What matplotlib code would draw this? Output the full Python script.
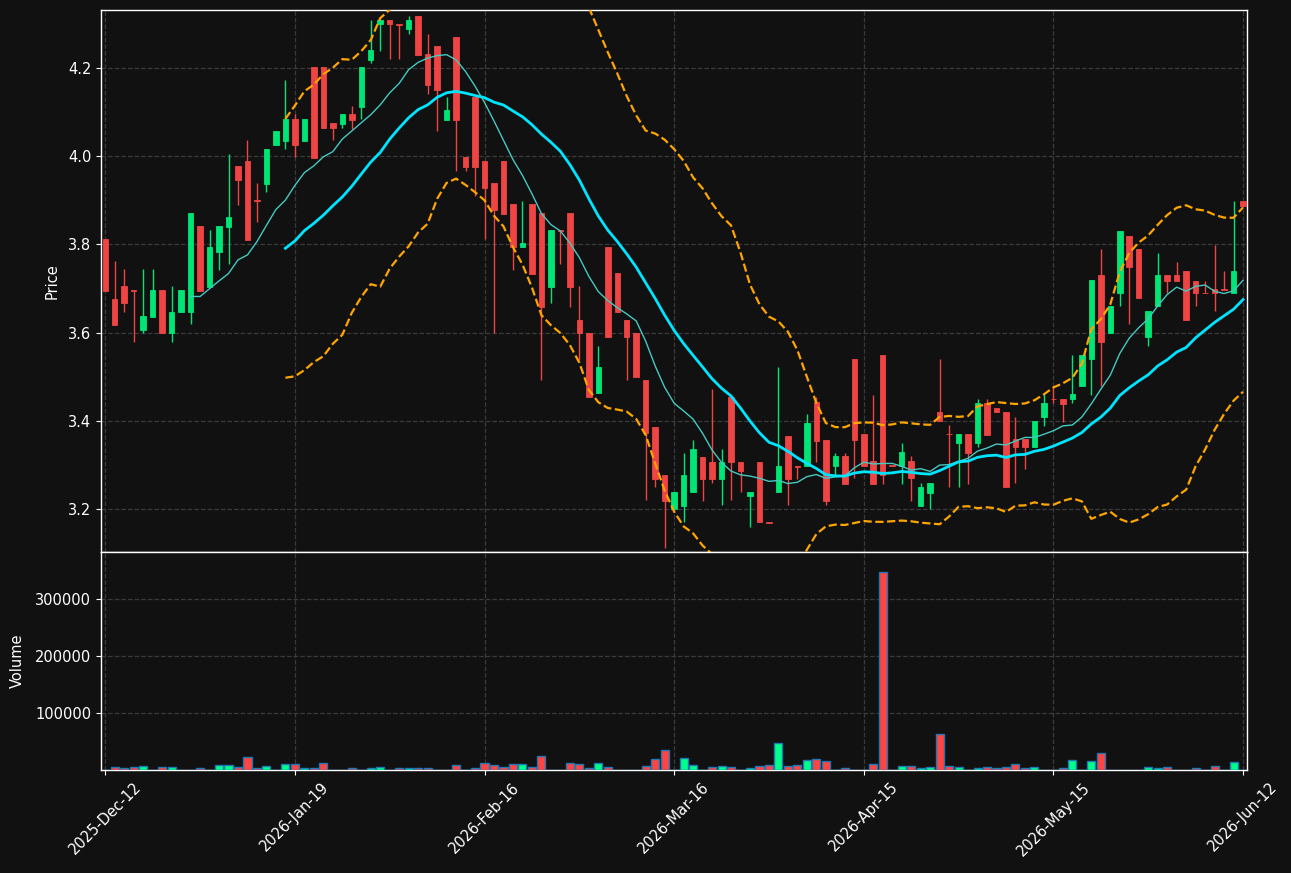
import numpy as np
import pandas as pd
import matplotlib
matplotlib.use("Agg")
import matplotlib.pyplot as plt

# ── DATOS OHLC + VOLUMEN (una vela por sesión) ──
opens = [3.812, 3.677, 3.706, 3.696, 3.607, 3.636, 3.697, 3.598, 3.646, 3.646,
         3.842, 3.704, 3.782, 3.839, 3.978, 3.989, 3.900, 3.937, 4.026, 4.034,
         4.084, 4.034, 4.2016, 4.2016, 4.075, 4.073, 4.095, 4.111, 4.2186, 4.299,
         4.308, 4.300, 4.289, 4.317, 4.231, 4.249, 4.083, 4.270, 3.998, 4.134,
         3.988, 3.939, 3.989, 3.891, 3.793, 3.891, 3.871, 3.704, 3.832, 3.871,
         3.628, 3.599, 3.462, 3.794, 3.735, 3.628, 3.599, 3.492, 3.385, 3.278,
         3.199, 3.207, 3.239, 3.318, 3.307, 3.267, 3.454, 3.307, 3.229, 3.307,
         3.170, 3.239, 3.365, 3.297, 3.297, 3.442, 3.356, 3.298, 3.320, 3.541,
         3.371, 3.308, 3.550, 3.299, 3.298, 3.308, 3.207, 3.237, 3.419, 3.370,
         3.349, 3.370, 3.349, 3.441, 3.429, 3.419, 3.359, 3.359, 3.340, 3.408,
         3.450, 3.450, 3.449, 3.478, 3.539, 3.731, 3.599, 3.689, 3.819, 3.790,
         3.589, 3.660, 3.731, 3.731, 3.739, 3.718, 3.690, 3.698, 3.698, 3.689,
         3.899]
highs = [3.812, 3.763, 3.745, 3.697, 3.745, 3.745, 3.697, 3.705, 3.697, 3.871,
         3.842, 3.832, 3.842, 4.006, 3.978, 4.036, 3.939, 4.016, 4.057, 4.172,
         4.095, 4.084, 4.2016, 4.2016, 4.075, 4.095, 4.113, 4.2016, 4.308, 4.308,
         4.308, 4.300, 4.317, 4.317, 4.278, 4.249, 4.134, 4.270, 3.998, 4.134,
         3.988, 3.939, 3.989, 3.891, 3.899, 3.891, 3.871, 3.832, 3.832, 3.871,
         3.706, 3.599, 3.569, 3.794, 3.735, 3.628, 3.599, 3.492, 3.385, 3.278,
         3.239, 3.326, 3.356, 3.318, 3.472, 3.336, 3.454, 3.307, 3.239, 3.307,
         3.170, 3.522, 3.365, 3.297, 3.416, 3.454, 3.356, 3.328, 3.328, 3.541,
         3.371, 3.458, 3.550, 3.299, 3.350, 3.320, 3.259, 3.259, 3.541, 3.391,
         3.370, 3.370, 3.450, 3.450, 3.429, 3.419, 3.408, 3.359, 3.399, 3.460,
         3.480, 3.450, 3.549, 3.549, 3.719, 3.789, 3.660, 3.830, 3.819, 3.790,
         3.649, 3.781, 3.731, 3.759, 3.739, 3.718, 3.718, 3.799, 3.739, 3.899,
         3.899]
lows = [3.694, 3.617, 3.646, 3.579, 3.599, 3.636, 3.598, 3.579, 3.646, 3.619,
        3.694, 3.704, 3.743, 3.755, 3.890, 3.810, 3.850, 3.919, 4.026, 4.016,
        3.998, 4.034, 3.997, 4.065, 4.036, 4.065, 4.061, 4.084, 4.2105, 4.239,
        4.220, 4.220, 4.278, 4.230, 4.142, 4.056, 4.083, 3.967, 3.967, 3.909,
        3.812, 3.599, 3.870, 3.743, 3.793, 3.734, 3.492, 3.666, 3.755, 3.658,
        3.537, 3.454, 3.462, 3.589, 3.646, 3.492, 3.500, 3.221, 3.249, 3.112,
        3.199, 3.171, 3.239, 3.219, 3.259, 3.209, 3.221, 3.239, 3.160, 3.170,
        3.169, 3.239, 3.209, 3.267, 3.297, 3.306, 3.209, 3.278, 3.257, 3.270,
        3.298, 3.257, 3.257, 3.298, 3.257, 3.219, 3.207, 3.201, 3.399, 3.249,
        3.249, 3.257, 3.340, 3.368, 3.419, 3.249, 3.259, 3.290, 3.340, 3.389,
        3.441, 3.397, 3.441, 3.478, 3.458, 3.478, 3.599, 3.660, 3.619, 3.678,
        3.569, 3.660, 3.690, 3.718, 3.628, 3.660, 3.689, 3.648, 3.697, 3.689,
        3.887]
closes = [3.694, 3.617, 3.666, 3.694, 3.638, 3.697, 3.598, 3.647, 3.697, 3.871,
          3.694, 3.794, 3.842, 3.862, 3.947, 3.810, 3.899, 4.016, 4.057, 4.084,
          4.026, 4.084, 3.997, 4.065, 4.065, 4.095, 4.083, 4.2016, 4.240, 4.308,
          4.299, 4.298, 4.308, 4.230, 4.162, 4.151, 4.105, 4.083, 3.976, 3.976,
          3.929, 3.878, 3.870, 3.793, 3.804, 3.734, 3.658, 3.832, 3.830, 3.704,
          3.599, 3.454, 3.522, 3.589, 3.646, 3.589, 3.500, 3.373, 3.268, 3.219,
          3.239, 3.278, 3.337, 3.267, 3.267, 3.307, 3.306, 3.287, 3.239, 3.170,
          3.169, 3.298, 3.267, 3.296, 3.395, 3.355, 3.219, 3.320, 3.257, 3.357,
          3.298, 3.257, 3.278, 3.298, 3.329, 3.270, 3.250, 3.259, 3.399, 3.369,
          3.370, 3.328, 3.441, 3.368, 3.419, 3.249, 3.340, 3.340, 3.399, 3.441,
          3.449, 3.439, 3.460, 3.549, 3.719, 3.579, 3.660, 3.830, 3.749, 3.678,
          3.649, 3.731, 3.718, 3.718, 3.628, 3.689, 3.689, 3.689, 3.697, 3.739,
          3.887]
volumes = [300, 4700, 3000, 4700, 6500, 400, 4700, 4700, 400, 400,
           3000, 400, 8260, 8260, 4700, 22400, 3000, 6500, 400, 10000,
           10000, 3000, 3000, 11800, 400, 400, 3000, 400, 3000, 4700,
           400, 3000, 3000, 3000, 3000, 800, 400, 8260, 400, 3000,
           11800, 8260, 5900, 10000, 10000, 4700, 24200, 400, 400, 11800,
           10000, 3000, 11800, 4700, 400, 400, 400, 6500, 18900, 34800,
           400, 20600, 8260, 400, 4700, 6500, 4700, 400, 3000, 6500,
           8260, 47200, 6500, 8260, 17100, 18900, 15300, 400, 3000, 400,
           400, 10000, 348000, 400, 6500, 6500, 3000, 4700, 63100, 6500,
           4700, 400, 3000, 4700, 3000, 4700, 10000, 3000, 4700, 400,
           400, 3000, 17100, 400, 15300, 29500, 400, 400, 400, 400,
           4700, 3000, 4700, 400, 400, 3000, 400, 6500, 400, 13600,
           400]
date_labels = ["2025-Dec-12", "2026-Jan-19", "2026-Feb-16", "2026-Mar-16",
               "2026-Apr-15", "2026-May-15", "2026-Jun-12"]

# ── Indicadores: medias móviles y bandas de Bollinger ──
df = pd.DataFrame({"open": opens, "high": highs, "low": lows,
                   "close": closes, "volume": volumes})
df["ma10"] = df["close"].rolling(10).mean()
df["ma20"] = df["close"].rolling(20).mean()
std20 = df["close"].rolling(20).std(ddof=0)
df["bb_up"] = df["ma20"] + 2 * std20
df["bb_dn"] = df["ma20"] - 2 * std20

x = np.arange(len(df))
up = (df["close"] >= df["open"]).values

BG = "#111111"
UP_C, DN_C = "#00e676", "#ef4444"
VUP_C, VDN_C = "#00ff88", "#ff4444"
GRID_C = "#3a3a3a"

plt.rcParams["font.family"] = "DejaVu Sans"
fig = plt.figure(figsize=(12.91, 8.73), dpi=100, facecolor=BG)
ax = fig.add_axes([101 / 1291, 1 - 552 / 873, 1146 / 1291, 542 / 873])
axv = fig.add_axes([101 / 1291, 1 - 770 / 873, 1146 / 1291, 218 / 873], sharex=ax)

for a in (ax, axv):
    a.set_facecolor(BG)
    for s in a.spines.values():
        s.set_color("white")
        s.set_linewidth(1.0)
    a.tick_params(colors="white", labelcolor="white", labelsize=10.5,
                  direction="out", length=3.5)
    a.grid(True, color=GRID_C, linestyle="--", linewidth=0.9)
    a.set_axisbelow(True)

# ── Velas ──
body_bottom = np.minimum(df["open"], df["close"])
body_h = (df["open"] - df["close"]).abs()
colors = np.where(up, UP_C, DN_C)
ax.vlines(x, df["low"], df["high"], colors=colors, linewidth=1.0, zorder=2)
ax.bar(x, body_h, bottom=body_bottom, width=0.58, color=colors,
       edgecolor=colors, linewidth=0.6, zorder=3)

# ── Medias y Bollinger ──
ax.plot(x, df["ma10"], color="#45c9c1", linewidth=1.0, zorder=4)
ax.plot(x, df["ma20"], color="#00e5ff", linewidth=2.0, zorder=4)
ax.plot(x, df["bb_up"], color="#ffa500", linewidth=1.6, linestyle="--", zorder=4)
ax.plot(x, df["bb_dn"], color="#ffa500", linewidth=1.6, linestyle="--", zorder=4)

ax.set_ylim(3.1025, 4.3315)
ax.set_yticks([3.2, 3.4, 3.6, 3.8, 4.0, 4.2])
ax.set_yticklabels(["3.2", "3.4", "3.6", "3.8", "4.0", "4.2"])
ax.set_ylabel("Price", color="white", fontsize=10.5, labelpad=6)
ax.tick_params(axis="x", labelbottom=False)

# ── Volumen ──
vcolors = np.where(up, VUP_C, VDN_C)
axv.bar(x, df["volume"], width=0.85, color=vcolors, edgecolor="#1f77b4",
        linewidth=1.0, zorder=3)
axv.set_ylim(0, df["volume"].max() * 1.1)
axv.set_yticks([100000, 200000, 300000])
axv.set_yticklabels(["100000", "200000", "300000"])
axv.set_ylabel("Volume", color="white", fontsize=10.5, labelpad=7)

tick_pos = list(range(0, len(df), 20))
axv.set_xticks(tick_pos)
axv.set_xticklabels(date_labels, rotation=45, ha="center")
axv.set_xlim(-0.45, len(df) - 0.58)

fig.savefig("out.png", dpi=100, facecolor=BG)
